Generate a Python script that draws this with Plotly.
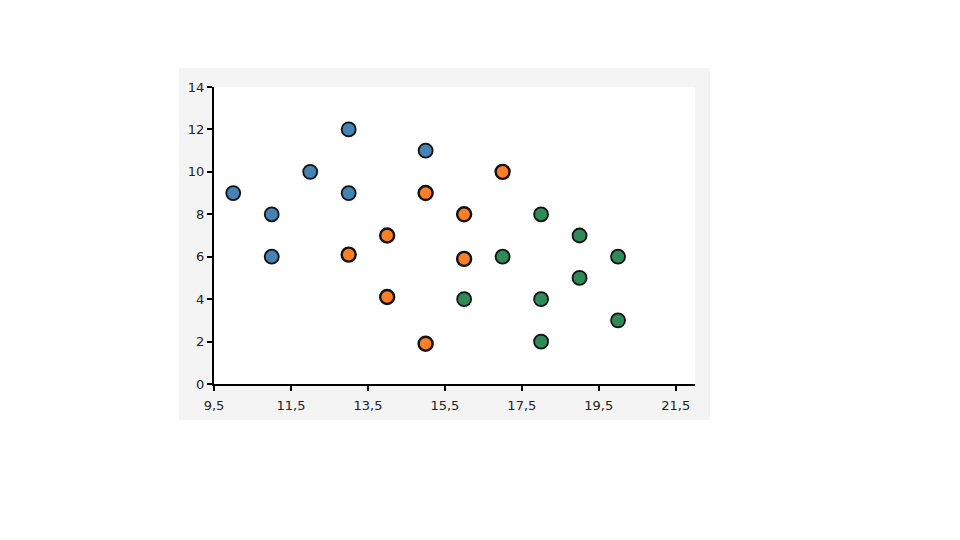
import plotly.graph_objects as go

blue_x = [10, 11, 11, 12, 13, 13, 15]
blue_y = [9, 8, 6, 10, 12, 9, 11]
orange_x = [13, 14, 14, 15, 15, 16, 16, 17]
orange_y = [6.1, 7, 4.1, 9, 1.9, 8, 5.9, 10]
green_x = [16, 17, 18, 18, 18, 19, 19, 20, 20]
green_y = [4, 6, 8, 4, 2, 7, 5, 6, 3]

x_ticks = [9.5, 11.5, 13.5, 15.5, 17.5, 19.5, 21.5]
x_tick_text = ["9,5", "11,5", "13,5", "15,5", "17,5", "19,5", "21,5"]
y_ticks = [0, 2, 4, 6, 8, 10, 12, 14]

fig = go.Figure()

def add(xs, ys, color, lw):
    fig.add_trace(go.Scatter(
        x=xs, y=ys, mode="markers",
        marker=dict(size=14, color=color, line=dict(color="#111111", width=lw)),
        showlegend=False, hoverinfo="x+y"))

add(blue_x, blue_y, "#4682B4", 1.8)
add(orange_x, orange_y, "#FF7F27", 2.4)
add(green_x, green_y, "#2E8B57", 1.8)

OFF = 8  # page body margin
W, H = 960 - OFF, 540 - OFF
L, R, T, B = 214 - OFF, 695 - OFF, 87 - OFF, 384 - OFF
pw, ph = R - L, B - T

def px(x):
    return (x - OFF - L) / pw

def py(y):
    return (B - (y - OFF)) / ph

fig.add_shape(type="rect", xref="paper", yref="paper",
              x0=px(179), x1=px(710), y0=py(420), y1=py(68),
              fillcolor="#F4F4F4", line=dict(width=0), layer="below")
fig.add_shape(type="rect", xref="paper", yref="paper",
              x0=0, x1=1, y0=0, y1=1,
              fillcolor="#FFFFFF", line=dict(width=0), layer="below")

fig.update_layout(
    width=W, height=H,
    margin=dict(l=L, r=W - R, t=T, b=H - B, pad=0),
    paper_bgcolor="#FFFFFF",
    plot_bgcolor="rgba(0,0,0,0)",
    font=dict(family="DejaVu Sans, Liberation Sans, sans-serif", size=13, color="#222222"),
    xaxis=dict(range=[9.5, 22], tickvals=x_ticks, ticktext=x_tick_text,
               showgrid=False, zeroline=False, showline=True, linecolor="#000000",
               linewidth=2, ticks="outside", ticklen=5, tickwidth=1.5, tickcolor="#000000",
               tickfont=dict(size=13), ticklabelstandoff=3),
    yaxis=dict(range=[0, 14], tickvals=y_ticks,
               showgrid=False, zeroline=False, showline=True, linecolor="#000000",
               linewidth=2, ticks="outside", ticklen=5, tickwidth=1.5, tickcolor="#000000",
               tickfont=dict(size=13)),
)

fig.write_html("out.html")
